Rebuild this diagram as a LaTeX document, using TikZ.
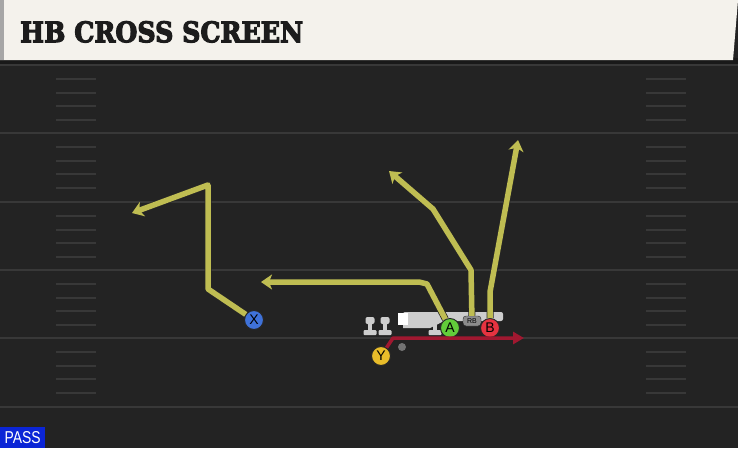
\documentclass[tikz,border=0pt]{standalone}
\usepackage{fontspec}
\usepackage{graphicx}
\setmainfont{DejaVu Serif}
\newfontfamily\labelfont{Liberation Sans}
\newfontfamily\titlefont{DejaVu Serif}
\usetikzlibrary{arrows.meta}
\definecolor{field}{HTML}{232323}
\definecolor{yardline}{HTML}{383838}
\definecolor{titlebg}{HTML}{F4F2EC}
\definecolor{titletext}{HTML}{1C1C1C}
\definecolor{passblue}{HTML}{0B25D6}
\definecolor{routeyellow}{HTML}{BFBD52}
\definecolor{routered}{HTML}{A01830}
\definecolor{playergreen}{HTML}{62CC3A}
\definecolor{playerred}{HTML}{E53340}
\definecolor{playerblue}{HTML}{3F72D9}
\definecolor{playeryellow}{HTML}{E8BC2A}
\definecolor{linegray}{HTML}{CDCDCD}

\begin{document}
\begin{tikzpicture}[x=1pt, y=-1pt,
	player/.style={circle, draw=black!85, line width=1pt, minimum size=19pt, inner sep=0pt, font=\labelfont\fontsize{14}{14}\selectfont},
	route/.style={draw=routeyellow, line width=5.5pt, line join=round,
		-{Stealth[length=11pt, width=15pt, inset=3pt]},
		preaction={draw=black!85, line width=7pt}},
	redroute/.style={draw=routered, line width=3.5pt, line join=round,
		-{Triangle[length=11pt, width=12pt]}},
	hash/.style={draw=yardline, line width=1.5pt},
	yard/.style={draw=yardline, line width=2pt}]
		% field and title bar
		\fill[field] (0,0) rectangle (738,448);
		\useasboundingbox (0,0) rectangle (738,448);
		\fill[black!90] (0,58) rectangle (738,64);
		\fill[titlebg] (0,0) -- (738,0) -- (733,60) -- (0,60) -- cycle;
		\fill[black!35] (0,0) rectangle (4,60);
		\node[anchor=north west, inner sep=0pt, text=titletext] (T) at (20,21)
			{\resizebox{283pt}{21pt}{\titlefont\bfseries\addfontfeatures{FakeBold=4}HB CROSS SCREEN}};
		% yard lines and hash marks
		\foreach \L in {65,133,202,270,338,407}
			\draw[yard] (0,\L) -- (738,\L);
		\foreach \L in {65,133,202,270,338}
			\foreach \d in {14,28,41,55} {
				\draw[hash] (56,\L+\d) -- (96,\L+\d);
				\draw[hash] (646,\L+\d) -- (686,\L+\d);
			}
		% line
		\foreach \x in {370,385,435} {
			\fill[linegray, rounded corners=2pt] (\x-4.5,317) rectangle (\x+4.5,324);
			\fill[linegray] (\x-2,323) rectangle (\x+2,331);
			\fill[linegray, rounded corners=1pt] (\x-6.5,330) rectangle (\x+6.5,335);
		}
		\fill[linegray, rounded corners=2pt] (403,312) rectangle (503,321);
		\fill[linegray] (403,320) -- (446,320) -- (430,328) -- (403,328) -- cycle;
		\fill[white] (398,313) rectangle (408,325);
		\fill[black!55] (402,347) circle (4);
		% players
		\node[player, fill=playerblue] (X) at (254,320) {X};
		\node[player, fill=playeryellow] (Y) at (381,356) {Y};
		\node[draw=black!85, fill=black!45, rounded corners=3pt, minimum width=18pt, minimum height=10pt, inner sep=0pt,
			font=\labelfont\fontsize{7}{7}\selectfont] (RB) at (472,321) {RB};
		\node[player, fill=playergreen] (A) at (450,328) {A};
		\node[player, fill=playerred] (B) at (490,328) {B};
		% routes
		\coordinate (X1) at (208,289);
		\coordinate (X2) at (208,185);
		\coordinate (X3) at (132,213);
		\coordinate (A1) at (427,284);
		\coordinate (A2) at (419,282);
		\coordinate (A3) at (261,282);
		\coordinate (R1) at (471,270);
		\coordinate (R2) at (433,209);
		\coordinate (R3) at (389,171);
		\coordinate (B1) at (490,292);
		\coordinate (B2) at (518,140);
		\coordinate (Y1) at (393,338);
		\coordinate (Y2) at (524,338);
		\draw[route] (X) -- (X1) -- (X2) -- (X3);
		\draw[route] (A) -- (A1) -- (A2) -- (A3);
		\draw[route] (RB) -- (R1) -- (R2) -- (R3);
		\draw[route] (B) -- (B1) -- (B2);
		\draw[redroute] (Y) -- (Y1) -- (Y2);
		% play type
		\node[fill=passblue, text=white, minimum width=45pt, minimum height=21pt, inner sep=0pt, anchor=south west] (P) at (0,448)
			{\resizebox{36pt}{12pt}{\labelfont PASS}};
\end{tikzpicture}
\end{document}
